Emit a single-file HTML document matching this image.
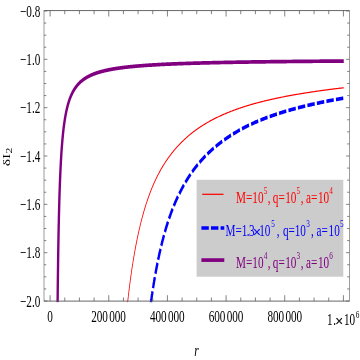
<!DOCTYPE html><html><head><meta charset="utf-8"><style>html,body{margin:0;padding:0;background:#fff}body{width:360px;height:360px;overflow:hidden;font-family:"Liberation Serif",serif}</style></head><body><svg width="360" height="360" viewBox="0 0 360 360" style="display:block">
<defs><filter id="bl" filterUnits="userSpaceOnUse" x="0" y="0" width="360" height="240" color-interpolation-filters="sRGB"><feGaussianBlur stdDeviation="0.3"/></filter></defs>
<rect width="360" height="360" fill="#fff"/>
<g transform="scale(1,1.53846)" font-family="Liberation Serif, serif" filter="url(#bl)">
<clipPath id="c"><rect x="44.00" y="6.89" width="305.50" height="189.60"/></clipPath>
<g clip-path="url(#c)" fill="none">
<path d="M127.61 196.62 L127.61 196.62 L127.61 196.62 L127.61 196.61 L127.61 196.60 L127.61 196.59 L127.61 196.57 L127.62 196.55 L127.62 196.52 L127.63 196.50 L127.63 196.46 L127.64 196.43 L127.65 196.39 L127.65 196.34 L127.66 196.29 L127.67 196.24 L127.68 196.18 L127.69 196.12 L127.70 196.05 L127.72 195.98 L127.73 195.91 L127.74 195.82 L127.76 195.74 L127.77 195.65 L127.79 195.55 L127.81 195.46 L127.82 195.35 L127.84 195.24 L127.86 195.13 L127.88 195.01 L127.90 194.89 L127.93 194.76 L127.95 194.63 L127.97 194.49 L128.00 194.35 L128.02 194.20 L128.05 194.05 L128.08 193.89 L128.11 193.73 L128.14 193.56 L128.17 193.39 L128.20 193.21 L128.23 193.03 L128.26 192.84 L128.30 192.65 L128.33 192.46 L128.37 192.26 L128.41 192.05 L128.44 191.84 L128.48 191.63 L128.52 191.41 L128.56 191.18 L128.61 190.96 L128.65 190.72 L128.69 190.48 L128.74 190.24 L128.78 190.00 L128.83 189.74 L128.88 189.49 L128.93 189.23 L128.98 188.96 L129.03 188.69 L129.08 188.42 L129.13 188.14 L129.18 187.86 L129.24 187.57 L129.29 187.28 L129.35 186.99 L129.41 186.69 L129.47 186.39 L129.53 186.08 L129.59 185.77 L129.65 185.46 L129.71 185.14 L129.78 184.82 L129.84 184.49 L129.91 184.16 L129.98 183.83 L130.04 183.49 L130.11 183.15 L130.18 182.80 L130.26 182.46 L130.33 182.10 L130.40 181.75 L130.48 181.39 L130.55 181.03 L130.63 180.67 L130.71 180.30 L130.79 179.93 L130.87 179.55 L130.95 179.18 L131.03 178.80 L131.11 178.41 L131.20 178.03 L131.28 177.64 L131.37 177.25 L131.46 176.86 L131.54 176.46 L131.63 176.06 L131.73 175.66 L131.82 175.25 L131.91 174.85 L132.01 174.44 L132.10 174.03 L132.20 173.62 L132.29 173.20 L132.39 172.78 L132.49 172.36 L132.59 171.94 L132.70 171.52 L132.80 171.09 L132.90 170.67 L133.01 170.24 L133.12 169.81 L133.22 169.37 L133.33 168.94 L133.44 168.50 L133.55 168.07 L133.67 167.63 L133.78 167.19 L133.90 166.75 L134.01 166.30 L134.13 165.86 L134.25 165.42 L134.37 164.97 L134.49 164.52 L134.61 164.07 L134.73 163.62 L134.86 163.17 L134.98 162.72 L135.11 162.27 L135.23 161.82 L135.36 161.37 L135.49 160.91 L135.62 160.46 L135.76 160.00 L135.89 159.55 L136.02 159.09 L136.16 158.63 L136.30 158.18 L136.43 157.72 L136.57 157.26 L136.71 156.80 L136.86 156.34 L137.00 155.89 L137.14 155.43 L137.29 154.97 L137.44 154.51 L137.58 154.05 L137.73 153.59 L137.88 153.13 L138.03 152.68 L138.19 152.22 L138.34 151.76 L138.49 151.30 L138.65 150.84 L138.81 150.39 L138.97 149.93 L139.13 149.47 L139.29 149.02 L139.45 148.56 L139.61 148.10 L139.78 147.65 L139.94 147.19 L140.11 146.74 L140.28 146.29 L140.45 145.84 L140.62 145.38 L140.79 144.93 L140.96 144.48 L141.14 144.03 L141.31 143.58 L141.49 143.13 L141.67 142.69 L141.85 142.24 L142.03 141.79 L142.21 141.35 L142.40 140.91 L142.58 140.46 L142.77 140.02 L142.95 139.58 L143.14 139.14 L143.33 138.70 L143.52 138.26 L143.71 137.83 L143.91 137.39 L144.10 136.95 L144.30 136.52 L144.49 136.09 L144.69 135.66 L144.89 135.23 L145.09 134.80 L145.29 134.37 L145.50 133.94 L145.70 133.52 L145.91 133.09 L146.11 132.67 L146.32 132.25 L146.53 131.83 L146.74 131.41 L146.96 131.00 L147.17 130.58 L147.38 130.17 L147.60 129.75 L147.82 129.34 L148.04 128.93 L148.26 128.53 L148.48 128.12 L148.70 127.71 L148.92 127.31 L149.15 126.91 L149.37 126.51 L149.60 126.11 L149.83 125.71 L150.06 125.32 L150.29 124.92 L150.53 124.53 L150.76 124.14 L151.00 123.75 L151.23 123.36 L151.47 122.97 L151.71 122.59 L151.95 122.21 L152.19 121.82 L152.43 121.45 L152.68 121.07 L152.93 120.69 L153.17 120.32 L153.42 119.94 L153.67 119.57 L153.92 119.20 L154.17 118.83 L154.43 118.46 L154.68 118.10 L154.94 117.74 L155.20 117.37 L155.46 117.01 L155.72 116.66 L155.98 116.30 L156.24 115.94 L156.50 115.59 L156.77 115.24 L157.04 114.89 L157.31 114.54 L157.57 114.19 L157.85 113.85 L158.12 113.50 L158.39 113.16 L158.67 112.82 L158.94 112.48 L159.22 112.14 L159.50 111.81 L159.78 111.47 L160.06 111.14 L160.34 110.81 L160.63 110.48 L160.91 110.15 L161.20 109.83 L161.49 109.50 L161.78 109.18 L162.07 108.86 L162.36 108.54 L162.65 108.22 L162.95 107.90 L163.25 107.59 L163.54 107.27 L163.84 106.96 L164.14 106.65 L164.44 106.34 L164.75 106.03 L165.05 105.73 L165.36 105.42 L165.67 105.12 L165.97 104.82 L166.28 104.52 L166.59 104.22 L166.91 103.92 L167.22 103.63 L167.54 103.33 L167.85 103.04 L168.17 102.75 L168.49 102.46 L168.81 102.17 L169.13 101.88 L169.46 101.59 L169.78 101.31 L170.11 101.03 L170.44 100.74 L170.76 100.46 L171.10 100.18 L171.43 99.90 L171.76 99.63 L172.09 99.35 L172.43 99.08 L172.77 98.80 L173.11 98.53 L173.45 98.26 L173.79 97.99 L174.13 97.72 L174.47 97.46 L174.82 97.19 L175.17 96.93 L175.52 96.66 L175.87 96.40 L176.22 96.14 L176.57 95.88 L176.92 95.62 L177.28 95.37 L177.63 95.11 L177.99 94.86 L178.35 94.60 L178.71 94.35 L179.08 94.10 L179.44 93.85 L179.80 93.60 L180.17 93.35 L180.54 93.11 L180.91 92.86 L181.28 92.62 L181.65 92.38 L182.02 92.14 L182.40 91.90 L182.77 91.66 L183.15 91.42 L183.53 91.19 L183.91 90.95 L184.29 90.72 L184.68 90.49 L185.06 90.26 L185.45 90.03 L185.83 89.80 L186.22 89.57 L186.61 89.34 L187.01 89.12 L187.40 88.89 L187.79 88.67 L188.19 88.45 L188.59 88.23 L188.99 88.01 L189.39 87.79 L189.79 87.57 L190.19 87.36 L190.59 87.14 L191.00 86.93 L191.41 86.72 L191.82 86.51 L192.23 86.30 L192.64 86.09 L193.05 85.88 L193.47 85.67 L193.88 85.47 L194.30 85.26 L194.72 85.06 L195.14 84.86 L195.56 84.65 L195.98 84.45 L196.41 84.25 L196.83 84.06 L197.26 83.86 L197.69 83.66 L198.12 83.47 L198.55 83.28 L198.98 83.08 L199.42 82.89 L199.85 82.70 L200.29 82.51 L200.73 82.33 L201.17 82.14 L201.61 81.95 L202.06 81.77 L202.50 81.59 L202.95 81.40 L203.39 81.22 L203.84 81.04 L204.29 80.86 L204.75 80.68 L205.20 80.50 L205.65 80.32 L206.11 80.15 L206.57 79.97 L207.03 79.80 L207.49 79.63 L207.95 79.45 L208.41 79.28 L208.88 79.11 L209.34 78.94 L209.81 78.77 L210.28 78.60 L210.75 78.44 L211.22 78.27 L211.70 78.11 L212.17 77.94 L212.65 77.78 L213.13 77.61 L213.61 77.45 L214.09 77.29 L214.57 77.13 L215.05 76.97 L215.54 76.81 L216.02 76.66 L216.51 76.50 L217.00 76.34 L217.49 76.19 L217.99 76.03 L218.48 75.88 L218.98 75.73 L219.47 75.58 L219.97 75.43 L220.47 75.27 L220.97 75.13 L221.48 74.98 L221.98 74.83 L222.49 74.68 L222.99 74.54 L223.50 74.39 L224.01 74.25 L224.53 74.10 L225.04 73.96 L225.55 73.82 L226.07 73.67 L226.59 73.53 L227.11 73.39 L227.63 73.25 L228.15 73.11 L228.67 72.98 L229.20 72.84 L229.72 72.70 L230.25 72.57 L230.78 72.43 L231.31 72.30 L231.85 72.16 L232.38 72.03 L232.92 71.90 L233.45 71.77 L233.99 71.64 L234.53 71.51 L235.07 71.38 L235.62 71.25 L236.16 71.12 L236.71 70.99 L237.25 70.87 L237.80 70.74 L238.35 70.61 L238.91 70.49 L239.46 70.37 L240.01 70.24 L240.57 70.12 L241.13 70.00 L241.69 69.88 L242.25 69.76 L242.81 69.64 L243.38 69.52 L243.94 69.40 L244.51 69.28 L245.08 69.16 L245.65 69.05 L246.22 68.93 L246.79 68.81 L247.37 68.70 L247.94 68.58 L248.52 68.47 L249.10 68.36 L249.68 68.25 L250.26 68.13 L250.84 68.02 L251.43 67.91 L252.02 67.80 L252.60 67.69 L253.19 67.58 L253.78 67.48 L254.38 67.37 L254.97 67.26 L255.57 67.15 L256.16 67.05 L256.76 66.94 L257.36 66.84 L257.96 66.73 L258.57 66.63 L259.17 66.53 L259.78 66.42 L260.39 66.32 L261.00 66.22 L261.61 66.12 L262.22 66.02 L262.83 65.92 L263.45 65.82 L264.07 65.72 L264.68 65.62 L265.30 65.52 L265.93 65.42 L266.55 65.33 L267.17 65.23 L267.80 65.13 L268.43 65.04 L269.06 64.94 L269.69 64.85 L270.32 64.75 L270.95 64.66 L271.59 64.57 L272.23 64.47 L272.86 64.38 L273.50 64.29 L274.14 64.20 L274.79 64.11 L275.43 64.01 L276.08 63.92 L276.73 63.83 L277.38 63.75 L278.03 63.66 L278.68 63.57 L279.33 63.48 L279.99 63.39 L280.64 63.31 L281.30 63.22 L281.96 63.13 L282.62 63.05 L283.29 62.96 L283.95 62.88 L284.62 62.79 L285.28 62.71 L285.95 62.62 L286.62 62.54 L287.30 62.46 L287.97 62.37 L288.65 62.29 L289.32 62.21 L290.00 62.13 L290.68 62.05 L291.36 61.97 L292.05 61.89 L292.73 61.81 L293.42 61.73 L294.10 61.65 L294.79 61.57 L295.48 61.49 L296.18 61.41 L296.87 61.34 L297.57 61.26 L298.26 61.18 L298.96 61.10 L299.66 61.03 L300.36 60.95 L301.07 60.88 L301.77 60.80 L302.48 60.73 L303.19 60.65 L303.90 60.58 L304.61 60.50 L305.32 60.43 L306.03 60.36 L306.75 60.28 L307.47 60.21 L308.19 60.14 L308.91 60.07 L309.63 59.99 L310.35 59.92 L311.08 59.85 L311.80 59.78 L312.53 59.71 L313.26 59.64 L313.99 59.57 L314.73 59.50 L315.46 59.43 L316.20 59.36 L316.94 59.29 L317.67 59.22 L318.42 59.15 L319.16 59.09 L319.90 59.02 L320.65 58.95 L321.39 58.88 L322.14 58.81 L322.89 58.75 L323.65 58.68 L324.40 58.61 L325.15 58.55 L325.91 58.48 L326.67 58.42 L327.43 58.35 L328.19 58.29 L328.95 58.22 L329.72 58.16 L330.48 58.09 L331.25 58.03 L332.02 57.97 L332.79 57.90 L333.56 57.84 L334.34 57.78 L335.11 57.72 L335.89 57.66 L336.67 57.59 L337.45 57.53 L338.23 57.47 L339.02 57.41 L339.80 57.35 L340.59 57.29 L341.38 57.24 L342.17 57.18 L342.96 57.12 L343.75 57.06" stroke="#ff0000" stroke-width="0.8"/>
<path d="M150.91 196.62 L150.91 196.62 L150.91 196.62 L150.92 196.62 L150.92 196.61 L150.92 196.60 L150.92 196.59 L150.92 196.57 L150.93 196.56 L150.93 196.54 L150.94 196.51 L150.94 196.49 L150.95 196.46 L150.96 196.42 L150.96 196.39 L150.97 196.35 L150.98 196.31 L150.99 196.27 L151.00 196.22 L151.01 196.17 L151.02 196.11 L151.04 196.05 L151.05 195.99 L151.06 195.93 L151.08 195.86 L151.09 195.79 L151.11 195.72 L151.12 195.64 L151.14 195.56 L151.16 195.47 L151.18 195.38 L151.20 195.29 L151.22 195.19 L151.24 195.09 L151.26 194.99 L151.29 194.89 L151.31 194.78 L151.34 194.66 L151.36 194.55 L151.39 194.43 L151.41 194.30 L151.44 194.17 L151.47 194.04 L151.50 193.91 L151.53 193.77 L151.56 193.63 L151.59 193.48 L151.63 193.33 L151.66 193.18 L151.70 193.03 L151.73 192.87 L151.77 192.70 L151.81 192.54 L151.84 192.37 L151.88 192.19 L151.92 192.02 L151.96 191.84 L152.00 191.65 L152.05 191.47 L152.09 191.28 L152.13 191.08 L152.18 190.88 L152.23 190.68 L152.27 190.48 L152.32 190.27 L152.37 190.06 L152.42 189.85 L152.47 189.63 L152.52 189.41 L152.57 189.18 L152.63 188.96 L152.68 188.73 L152.74 188.49 L152.79 188.26 L152.85 188.02 L152.91 187.77 L152.97 187.53 L153.03 187.28 L153.09 187.03 L153.15 186.77 L153.21 186.52 L153.28 186.25 L153.34 185.99 L153.41 185.72 L153.47 185.46 L153.54 185.18 L153.61 184.91 L153.68 184.63 L153.75 184.35 L153.82 184.07 L153.89 183.78 L153.97 183.49 L154.04 183.20 L154.12 182.91 L154.19 182.61 L154.27 182.31 L154.35 182.01 L154.43 181.71 L154.51 181.40 L154.59 181.09 L154.67 180.78 L154.75 180.47 L154.84 180.16 L154.92 179.84 L155.01 179.52 L155.10 179.20 L155.18 178.87 L155.27 178.55 L155.36 178.22 L155.46 177.89 L155.55 177.56 L155.64 177.22 L155.73 176.89 L155.83 176.55 L155.93 176.21 L156.02 175.87 L156.12 175.52 L156.22 175.18 L156.32 174.83 L156.42 174.48 L156.52 174.14 L156.63 173.78 L156.73 173.43 L156.84 173.08 L156.94 172.72 L157.05 172.36 L157.16 172.00 L157.27 171.64 L157.38 171.28 L157.49 170.92 L157.61 170.55 L157.72 170.19 L157.83 169.82 L157.95 169.46 L158.07 169.09 L158.18 168.72 L158.30 168.35 L158.42 167.97 L158.54 167.60 L158.67 167.23 L158.79 166.85 L158.91 166.48 L159.04 166.10 L159.17 165.72 L159.29 165.34 L159.42 164.96 L159.55 164.58 L159.68 164.20 L159.81 163.82 L159.95 163.44 L160.08 163.06 L160.22 162.68 L160.35 162.29 L160.49 161.91 L160.63 161.52 L160.77 161.14 L160.91 160.75 L161.05 160.37 L161.19 159.98 L161.34 159.60 L161.48 159.21 L161.63 158.82 L161.77 158.43 L161.92 158.05 L162.07 157.66 L162.22 157.27 L162.37 156.88 L162.52 156.50 L162.68 156.11 L162.83 155.72 L162.99 155.33 L163.14 154.94 L163.30 154.55 L163.46 154.17 L163.62 153.78 L163.78 153.39 L163.94 153.00 L164.11 152.61 L164.27 152.23 L164.44 151.84 L164.61 151.45 L164.77 151.06 L164.94 150.68 L165.11 150.29 L165.28 149.90 L165.46 149.52 L165.63 149.13 L165.80 148.75 L165.98 148.36 L166.16 147.98 L166.33 147.60 L166.51 147.22 L166.69 146.83 L166.88 146.45 L167.06 146.07 L167.24 145.69 L167.43 145.31 L167.61 144.93 L167.80 144.56 L167.99 144.18 L168.18 143.80 L168.37 143.43 L168.56 143.05 L168.75 142.68 L168.95 142.30 L169.14 141.93 L169.34 141.56 L169.53 141.19 L169.73 140.82 L169.93 140.45 L170.13 140.08 L170.33 139.71 L170.54 139.35 L170.74 138.98 L170.95 138.62 L171.15 138.25 L171.36 137.89 L171.57 137.53 L171.78 137.16 L171.99 136.80 L172.20 136.45 L172.42 136.09 L172.63 135.73 L172.85 135.37 L173.06 135.02 L173.28 134.66 L173.50 134.31 L173.72 133.96 L173.94 133.61 L174.17 133.26 L174.39 132.91 L174.62 132.56 L174.84 132.21 L175.07 131.87 L175.30 131.52 L175.53 131.18 L175.76 130.83 L175.99 130.49 L176.23 130.15 L176.46 129.81 L176.70 129.47 L176.93 129.13 L177.17 128.79 L177.41 128.46 L177.65 128.12 L177.89 127.79 L178.13 127.46 L178.38 127.12 L178.62 126.79 L178.87 126.46 L179.12 126.13 L179.37 125.81 L179.62 125.48 L179.87 125.15 L180.12 124.83 L180.37 124.50 L180.63 124.18 L180.88 123.86 L181.14 123.54 L181.40 123.22 L181.66 122.90 L181.92 122.58 L182.18 122.26 L182.45 121.94 L182.71 121.63 L182.98 121.31 L183.24 121.00 L183.51 120.69 L183.78 120.37 L184.05 120.06 L184.32 119.75 L184.59 119.44 L184.87 119.13 L185.14 118.82 L185.42 118.52 L185.70 118.21 L185.98 117.90 L186.26 117.60 L186.54 117.30 L186.82 117.00 L187.10 116.69 L187.39 116.40 L187.68 116.10 L187.96 115.80 L188.25 115.50 L188.54 115.21 L188.83 114.92 L189.12 114.62 L189.42 114.33 L189.71 114.04 L190.01 113.75 L190.31 113.47 L190.60 113.18 L190.90 112.89 L191.21 112.61 L191.51 112.33 L191.81 112.05 L192.12 111.76 L192.42 111.48 L192.73 111.21 L193.04 110.93 L193.35 110.65 L193.66 110.38 L193.97 110.10 L194.28 109.83 L194.60 109.56 L194.91 109.29 L195.23 109.02 L195.55 108.75 L195.87 108.48 L196.19 108.22 L196.51 107.95 L196.83 107.69 L197.16 107.42 L197.48 107.16 L197.81 106.90 L198.14 106.64 L198.47 106.38 L198.80 106.13 L199.13 105.87 L199.46 105.62 L199.80 105.36 L200.13 105.11 L200.47 104.86 L200.81 104.61 L201.15 104.36 L201.49 104.11 L201.83 103.86 L202.17 103.61 L202.52 103.37 L202.86 103.12 L203.21 102.88 L203.56 102.64 L203.91 102.39 L204.26 102.15 L204.61 101.91 L204.96 101.68 L205.32 101.44 L205.67 101.20 L206.03 100.97 L206.39 100.73 L206.75 100.50 L207.11 100.27 L207.47 100.04 L207.84 99.81 L208.20 99.58 L208.57 99.35 L208.93 99.12 L209.30 98.89 L209.67 98.67 L210.04 98.44 L210.41 98.22 L210.79 98.00 L211.16 97.77 L211.54 97.55 L211.92 97.33 L212.30 97.11 L212.68 96.90 L213.06 96.68 L213.44 96.46 L213.82 96.25 L214.21 96.03 L214.59 95.82 L214.98 95.61 L215.37 95.40 L215.76 95.18 L216.15 94.97 L216.55 94.76 L216.94 94.56 L217.34 94.35 L217.73 94.14 L218.13 93.93 L218.53 93.73 L218.93 93.52 L219.33 93.32 L219.73 93.11 L220.14 92.91 L220.54 92.71 L220.95 92.51 L221.36 92.31 L221.77 92.11 L222.18 91.91 L222.59 91.71 L223.01 91.51 L223.42 91.31 L223.84 91.12 L224.25 90.92 L224.67 90.73 L225.09 90.53 L225.51 90.34 L225.94 90.15 L226.36 89.95 L226.79 89.76 L227.21 89.57 L227.64 89.38 L228.07 89.19 L228.50 89.01 L228.93 88.82 L229.36 88.63 L229.80 88.44 L230.23 88.26 L230.67 88.07 L231.11 87.89 L231.55 87.71 L231.99 87.52 L232.43 87.34 L232.87 87.16 L233.32 86.98 L233.77 86.80 L234.21 86.62 L234.66 86.44 L235.11 86.27 L235.56 86.09 L236.02 85.92 L236.47 85.74 L236.93 85.57 L237.38 85.39 L237.84 85.22 L238.30 85.05 L238.76 84.88 L239.22 84.71 L239.68 84.54 L240.15 84.37 L240.62 84.20 L241.08 84.03 L241.55 83.86 L242.02 83.70 L242.49 83.53 L242.96 83.37 L243.44 83.20 L243.91 83.04 L244.39 82.88 L244.87 82.72 L245.35 82.56 L245.83 82.40 L246.31 82.24 L246.79 82.08 L247.28 81.93 L247.76 81.77 L248.25 81.61 L248.74 81.46 L249.23 81.31 L249.72 81.15 L250.21 81.00 L250.70 80.85 L251.20 80.70 L251.70 80.55 L252.19 80.40 L252.69 80.25 L253.19 80.10 L253.70 79.96 L254.20 79.81 L254.70 79.66 L255.21 79.52 L255.72 79.37 L256.23 79.23 L256.73 79.09 L257.25 78.94 L257.76 78.80 L258.27 78.66 L258.79 78.52 L259.30 78.38 L259.82 78.24 L260.34 78.10 L260.86 77.96 L261.38 77.83 L261.91 77.69 L262.43 77.55 L262.96 77.42 L263.49 77.28 L264.01 77.15 L264.54 77.01 L265.08 76.88 L265.61 76.74 L266.14 76.61 L266.68 76.48 L267.22 76.35 L267.75 76.22 L268.29 76.09 L268.83 75.96 L269.38 75.83 L269.92 75.70 L270.46 75.57 L271.01 75.45 L271.56 75.32 L272.11 75.19 L272.66 75.07 L273.21 74.94 L273.76 74.82 L274.32 74.69 L274.87 74.57 L275.43 74.45 L275.99 74.33 L276.55 74.20 L277.11 74.08 L277.67 73.96 L278.24 73.84 L278.80 73.72 L279.37 73.60 L279.94 73.48 L280.51 73.37 L281.08 73.25 L281.65 73.13 L282.22 73.01 L282.80 72.90 L283.38 72.78 L283.95 72.67 L284.53 72.55 L285.11 72.44 L285.69 72.32 L286.28 72.21 L286.86 72.10 L287.45 71.99 L288.04 71.87 L288.62 71.76 L289.21 71.65 L289.81 71.54 L290.40 71.43 L290.99 71.32 L291.59 71.21 L292.19 71.10 L292.78 71.00 L293.38 70.89 L293.99 70.78 L294.59 70.67 L295.19 70.57 L295.80 70.46 L296.40 70.36 L297.01 70.25 L297.62 70.15 L298.23 70.04 L298.84 69.94 L299.46 69.84 L300.07 69.73 L300.69 69.63 L301.31 69.53 L301.93 69.43 L302.55 69.33 L303.17 69.23 L303.79 69.13 L304.42 69.03 L305.04 68.93 L305.67 68.83 L306.30 68.73 L306.93 68.63 L307.56 68.53 L308.19 68.44 L308.83 68.34 L309.46 68.24 L310.10 68.15 L310.74 68.05 L311.38 67.96 L312.02 67.86 L312.66 67.76 L313.31 67.67 L313.95 67.58 L314.60 67.48 L315.25 67.39 L315.90 67.29 L316.55 67.20 L317.20 67.11 L317.86 67.02 L318.51 66.92 L319.17 66.83 L319.83 66.74 L320.49 66.65 L321.15 66.56 L321.81 66.47 L322.47 66.38 L323.14 66.29 L323.81 66.20 L324.47 66.11 L325.14 66.02 L325.81 65.93 L326.49 65.85 L327.16 65.76 L327.83 65.67 L328.51 65.59 L329.19 65.50 L329.87 65.41 L330.55 65.33 L331.23 65.24 L331.91 65.16 L332.60 65.08 L333.29 64.99 L333.97 64.91 L334.66 64.83 L335.35 64.75 L336.05 64.67 L336.74 64.58 L337.43 64.50 L338.13 64.42 L338.83 64.35 L339.53 64.27 L340.23 64.19 L340.93 64.11 L341.63 64.04 L342.34 63.96 L343.04 63.88 L343.75 63.81" stroke="#0000ff" stroke-width="2.4" stroke-dasharray="7.4 2.2" stroke-dashoffset="0"/>
<path d="M57.61 196.58 L57.61 196.57 L57.61 196.52 L57.61 196.42 L57.62 196.28 L57.62 196.08 L57.62 195.83 L57.63 195.53 L57.63 195.18 L57.64 194.76 L57.65 194.30 L57.66 193.77 L57.66 193.19 L57.67 192.55 L57.69 191.86 L57.70 191.12 L57.71 190.31 L57.72 189.46 L57.74 188.55 L57.76 187.60 L57.77 186.59 L57.79 185.54 L57.81 184.44 L57.83 183.29 L57.85 182.11 L57.88 180.88 L57.90 179.62 L57.92 178.32 L57.95 176.99 L57.98 175.62 L58.01 174.23 L58.04 172.80 L58.07 171.36 L58.10 169.89 L58.13 168.40 L58.17 166.89 L58.20 165.37 L58.24 163.83 L58.28 162.27 L58.31 160.71 L58.35 159.14 L58.40 157.57 L58.44 155.99 L58.48 154.40 L58.53 152.82 L58.57 151.24 L58.62 149.65 L58.67 148.08 L58.72 146.50 L58.77 144.94 L58.83 143.38 L58.88 141.83 L58.93 140.29 L58.99 138.75 L59.05 137.24 L59.11 135.73 L59.17 134.24 L59.23 132.76 L59.29 131.29 L59.36 129.85 L59.42 128.41 L59.49 127.00 L59.56 125.60 L59.63 124.21 L59.70 122.85 L59.77 121.50 L59.85 120.18 L59.92 118.87 L60.00 117.58 L60.08 116.30 L60.16 115.05 L60.24 113.81 L60.32 112.60 L60.40 111.40 L60.49 110.23 L60.57 109.07 L60.66 107.93 L60.75 106.81 L60.84 105.70 L60.93 104.62 L61.02 103.55 L61.12 102.51 L61.21 101.48 L61.31 100.47 L61.41 99.47 L61.51 98.50 L61.61 97.54 L61.72 96.60 L61.82 95.68 L61.93 94.77 L62.03 93.88 L62.14 93.00 L62.25 92.14 L62.36 91.30 L62.48 90.47 L62.59 89.66 L62.71 88.86 L62.83 88.08 L62.94 87.31 L63.06 86.56 L63.19 85.82 L63.31 85.09 L63.43 84.38 L63.56 83.68 L63.69 83.00 L63.82 82.32 L63.95 81.66 L64.08 81.02 L64.22 80.38 L64.35 79.76 L64.49 79.14 L64.63 78.54 L64.77 77.95 L64.91 77.37 L65.05 76.80 L65.19 76.25 L65.34 75.70 L65.49 75.16 L65.64 74.63 L65.79 74.12 L65.94 73.61 L66.09 73.11 L66.25 72.62 L66.40 72.14 L66.56 71.67 L66.72 71.20 L66.88 70.75 L67.04 70.30 L67.21 69.86 L67.37 69.43 L67.54 69.01 L67.71 68.59 L67.88 68.18 L68.05 67.78 L68.23 67.39 L68.40 67.00 L68.58 66.62 L68.76 66.25 L68.93 65.88 L69.12 65.52 L69.30 65.17 L69.48 64.82 L69.67 64.48 L69.86 64.14 L70.05 63.81 L70.24 63.49 L70.43 63.17 L70.62 62.86 L70.82 62.55 L71.02 62.25 L71.21 61.95 L71.42 61.66 L71.62 61.37 L71.82 61.08 L72.03 60.81 L72.23 60.53 L72.44 60.26 L72.65 60.00 L72.86 59.74 L73.08 59.48 L73.29 59.23 L73.51 58.98 L73.72 58.74 L73.94 58.50 L74.17 58.26 L74.39 58.03 L74.61 57.80 L74.84 57.58 L75.07 57.36 L75.30 57.14 L75.53 56.93 L75.76 56.71 L75.99 56.51 L76.23 56.30 L76.47 56.10 L76.71 55.90 L76.95 55.71 L77.19 55.52 L77.43 55.33 L77.68 55.14 L77.93 54.96 L78.18 54.78 L78.43 54.60 L78.68 54.42 L78.93 54.25 L79.19 54.08 L79.45 53.91 L79.71 53.75 L79.97 53.58 L80.23 53.42 L80.49 53.27 L80.76 53.11 L81.03 52.96 L81.30 52.81 L81.57 52.66 L81.84 52.51 L82.11 52.37 L82.39 52.22 L82.67 52.08 L82.95 51.94 L83.23 51.81 L83.51 51.67 L83.79 51.54 L84.08 51.41 L84.37 51.28 L84.66 51.15 L84.95 51.03 L85.24 50.90 L85.54 50.78 L85.83 50.66 L86.13 50.54 L86.43 50.42 L86.73 50.31 L87.03 50.19 L87.34 50.08 L87.64 49.97 L87.95 49.86 L88.26 49.75 L88.57 49.65 L88.89 49.54 L89.20 49.44 L89.52 49.34 L89.84 49.23 L90.16 49.13 L90.48 49.04 L90.80 48.94 L91.13 48.84 L91.46 48.75 L91.79 48.65 L92.12 48.56 L92.45 48.47 L92.78 48.38 L93.12 48.29 L93.46 48.20 L93.80 48.12 L94.14 48.03 L94.48 47.95 L94.82 47.86 L95.17 47.78 L95.52 47.70 L95.87 47.62 L96.22 47.54 L96.57 47.46 L96.93 47.38 L97.28 47.31 L97.64 47.23 L98.00 47.15 L98.37 47.08 L98.73 47.01 L99.10 46.94 L99.46 46.86 L99.83 46.79 L100.20 46.72 L100.58 46.66 L100.95 46.59 L101.33 46.52 L101.70 46.45 L102.08 46.39 L102.47 46.32 L102.85 46.26 L103.23 46.20 L103.62 46.13 L104.01 46.07 L104.40 46.01 L104.79 45.95 L105.19 45.89 L105.58 45.83 L105.98 45.77 L106.38 45.71 L106.78 45.66 L107.18 45.60 L107.59 45.54 L108.00 45.49 L108.40 45.43 L108.81 45.38 L109.23 45.32 L109.64 45.27 L110.06 45.22 L110.47 45.17 L110.89 45.12 L111.31 45.07 L111.74 45.02 L112.16 44.97 L112.59 44.92 L113.02 44.87 L113.45 44.82 L113.88 44.77 L114.31 44.73 L114.75 44.68 L115.18 44.63 L115.62 44.59 L116.06 44.54 L116.51 44.50 L116.95 44.45 L117.40 44.41 L117.85 44.37 L118.30 44.32 L118.75 44.28 L119.20 44.24 L119.66 44.20 L120.12 44.16 L120.57 44.11 L121.04 44.07 L121.50 44.03 L121.96 44.00 L122.43 43.96 L122.90 43.92 L123.37 43.88 L123.84 43.84 L124.31 43.80 L124.79 43.77 L125.27 43.73 L125.75 43.69 L126.23 43.66 L126.71 43.62 L127.20 43.59 L127.68 43.55 L128.17 43.52 L128.66 43.48 L129.16 43.45 L129.65 43.41 L130.15 43.38 L130.64 43.35 L131.14 43.31 L131.65 43.28 L132.15 43.25 L132.66 43.22 L133.16 43.19 L133.67 43.15 L134.18 43.12 L134.70 43.09 L135.21 43.06 L135.73 43.03 L136.25 43.00 L136.77 42.97 L137.29 42.94 L137.81 42.91 L138.34 42.89 L138.87 42.86 L139.40 42.83 L139.93 42.80 L140.46 42.77 L141.00 42.75 L141.54 42.72 L142.07 42.69 L142.62 42.66 L143.16 42.64 L143.70 42.61 L144.25 42.59 L144.80 42.56 L145.35 42.53 L145.90 42.51 L146.46 42.48 L147.01 42.46 L147.57 42.43 L148.13 42.41 L148.69 42.39 L149.26 42.36 L149.82 42.34 L150.39 42.31 L150.96 42.29 L151.53 42.27 L152.10 42.24 L152.68 42.22 L153.26 42.20 L153.84 42.18 L154.42 42.15 L155.00 42.13 L155.58 42.11 L156.17 42.09 L156.76 42.07 L157.35 42.04 L157.94 42.02 L158.54 42.00 L159.13 41.98 L159.73 41.96 L160.33 41.94 L160.93 41.92 L161.54 41.90 L162.14 41.88 L162.75 41.86 L163.36 41.84 L163.97 41.82 L164.58 41.80 L165.20 41.78 L165.82 41.76 L166.44 41.74 L167.06 41.73 L167.68 41.71 L168.31 41.69 L168.93 41.67 L169.56 41.65 L170.19 41.63 L170.83 41.62 L171.46 41.60 L172.10 41.58 L172.74 41.56 L173.38 41.55 L174.02 41.53 L174.66 41.51 L175.31 41.50 L175.96 41.48 L176.61 41.46 L177.26 41.45 L177.91 41.43 L178.57 41.41 L179.23 41.40 L179.89 41.38 L180.55 41.37 L181.21 41.35 L181.88 41.33 L182.55 41.32 L183.22 41.30 L183.89 41.29 L184.56 41.27 L185.24 41.26 L185.92 41.24 L186.60 41.23 L187.28 41.21 L187.96 41.20 L188.65 41.18 L189.33 41.17 L190.02 41.15 L190.71 41.14 L191.41 41.13 L192.10 41.11 L192.80 41.10 L193.50 41.09 L194.20 41.07 L194.90 41.06 L195.61 41.04 L196.32 41.03 L197.02 41.02 L197.74 41.00 L198.45 40.99 L199.16 40.98 L199.88 40.97 L200.60 40.95 L201.32 40.94 L202.04 40.93 L202.77 40.91 L203.49 40.90 L204.22 40.89 L204.95 40.88 L205.69 40.87 L206.42 40.85 L207.16 40.84 L207.90 40.83 L208.64 40.82 L209.38 40.81 L210.12 40.79 L210.87 40.78 L211.62 40.77 L212.37 40.76 L213.12 40.75 L213.88 40.74 L214.63 40.73 L215.39 40.71 L216.15 40.70 L216.92 40.69 L217.68 40.68 L218.45 40.67 L219.21 40.66 L219.99 40.65 L220.76 40.64 L221.53 40.63 L222.31 40.62 L223.09 40.61 L223.87 40.60 L224.65 40.59 L225.44 40.58 L226.22 40.57 L227.01 40.56 L227.80 40.55 L228.59 40.54 L229.39 40.53 L230.18 40.52 L230.98 40.51 L231.78 40.50 L232.59 40.49 L233.39 40.48 L234.20 40.47 L235.01 40.46 L235.82 40.45 L236.63 40.44 L237.44 40.43 L238.26 40.42 L239.08 40.41 L239.90 40.40 L240.72 40.40 L241.55 40.39 L242.38 40.38 L243.20 40.37 L244.04 40.36 L244.87 40.35 L245.70 40.34 L246.54 40.33 L247.38 40.33 L248.22 40.32 L249.06 40.31 L249.91 40.30 L250.76 40.29 L251.60 40.28 L252.46 40.28 L253.31 40.27 L254.16 40.26 L255.02 40.25 L255.88 40.24 L256.74 40.24 L257.61 40.23 L258.47 40.22 L259.34 40.21 L260.21 40.20 L261.08 40.20 L261.95 40.19 L262.83 40.18 L263.71 40.17 L264.59 40.17 L265.47 40.16 L266.35 40.15 L267.24 40.14 L268.13 40.14 L269.02 40.13 L269.91 40.12 L270.80 40.11 L271.70 40.11 L272.60 40.10 L273.50 40.09 L274.40 40.09 L275.30 40.08 L276.21 40.07 L277.12 40.07 L278.03 40.06 L278.94 40.05 L279.85 40.04 L280.77 40.04 L281.69 40.03 L282.61 40.02 L283.53 40.02 L284.46 40.01 L285.39 40.00 L286.31 40.00 L287.25 39.99 L288.18 39.99 L289.11 39.98 L290.05 39.97 L290.99 39.97 L291.93 39.96 L292.88 39.95 L293.82 39.95 L294.77 39.94 L295.72 39.94 L296.67 39.93 L297.62 39.92 L298.58 39.92 L299.54 39.91 L300.50 39.90 L301.46 39.90 L302.42 39.89 L303.39 39.89 L304.36 39.88 L305.33 39.88 L306.30 39.87 L307.28 39.86 L308.25 39.86 L309.23 39.85 L310.21 39.85 L311.19 39.84 L312.18 39.84 L313.17 39.83 L314.16 39.82 L315.15 39.82 L316.14 39.81 L317.14 39.81 L318.13 39.80 L319.13 39.80 L320.13 39.79 L321.14 39.79 L322.14 39.78 L323.15 39.78 L324.16 39.77 L325.17 39.77 L326.19 39.76 L327.20 39.76 L328.22 39.75 L329.24 39.75 L330.27 39.74 L331.29 39.74 L332.32 39.73 L333.35 39.73 L334.38 39.72 L335.41 39.72 L336.45 39.71 L337.48 39.71 L338.52 39.70 L339.56 39.70 L340.61 39.69 L341.65 39.69 L342.70 39.68 L343.75 39.68" stroke="#800080" stroke-width="2.4"/>
</g>
<g stroke="#5a5a5a" stroke-width="0.60" fill="none">
<rect x="44.00" y="6.89" width="305.50" height="188.82"/>
<path d="M50.10 195.72 v-3.83 M50.10 6.89 v3.83 M64.77 195.72 v-2.34 M64.77 6.89 v2.34 M79.43 195.72 v-2.34 M79.43 6.89 v2.34 M94.09 195.72 v-2.34 M94.09 6.89 v2.34 M108.76 195.72 v-3.83 M108.76 6.89 v3.83 M123.43 195.72 v-2.34 M123.43 6.89 v2.34 M138.09 195.72 v-2.34 M138.09 6.89 v2.34 M152.75 195.72 v-2.34 M152.75 6.89 v2.34 M167.42 195.72 v-3.83 M167.42 6.89 v3.83 M182.09 195.72 v-2.34 M182.09 6.89 v2.34 M196.75 195.72 v-2.34 M196.75 6.89 v2.34 M211.42 195.72 v-2.34 M211.42 6.89 v2.34 M226.08 195.72 v-3.83 M226.08 6.89 v3.83 M240.75 195.72 v-2.34 M240.75 6.89 v2.34 M255.41 195.72 v-2.34 M255.41 6.89 v2.34 M270.08 195.72 v-2.34 M270.08 6.89 v2.34 M284.74 195.72 v-3.83 M284.74 6.89 v3.83 M299.41 195.72 v-2.34 M299.41 6.89 v2.34 M314.07 195.72 v-2.34 M314.07 6.89 v2.34 M328.74 195.72 v-2.34 M328.74 6.89 v2.34 M343.40 195.72 v-3.83 M343.40 6.89 v3.83 M44.00 7.15 h3.40 M349.50 7.15 h-3.40 M44.00 15.00 h2.30 M349.50 15.00 h-2.30 M44.00 22.86 h2.30 M349.50 22.86 h-2.30 M44.00 30.71 h2.30 M349.50 30.71 h-2.30 M44.00 38.57 h3.40 M349.50 38.57 h-3.40 M44.00 46.42 h2.30 M349.50 46.42 h-2.30 M44.00 54.28 h2.30 M349.50 54.28 h-2.30 M44.00 62.13 h2.30 M349.50 62.13 h-2.30 M44.00 69.98 h3.40 M349.50 69.98 h-3.40 M44.00 77.84 h2.30 M349.50 77.84 h-2.30 M44.00 85.69 h2.30 M349.50 85.69 h-2.30 M44.00 93.55 h2.30 M349.50 93.55 h-2.30 M44.00 101.40 h3.40 M349.50 101.40 h-3.40 M44.00 109.26 h2.30 M349.50 109.26 h-2.30 M44.00 117.11 h2.30 M349.50 117.11 h-2.30 M44.00 124.96 h2.30 M349.50 124.96 h-2.30 M44.00 132.82 h3.40 M349.50 132.82 h-3.40 M44.00 140.67 h2.30 M349.50 140.67 h-2.30 M44.00 148.53 h2.30 M349.50 148.53 h-2.30 M44.00 156.38 h2.30 M349.50 156.38 h-2.30 M44.00 164.24 h3.40 M349.50 164.24 h-3.40 M44.00 172.09 h2.30 M349.50 172.09 h-2.30 M44.00 179.94 h2.30 M349.50 179.94 h-2.30 M44.00 187.80 h2.30 M349.50 187.80 h-2.30 M44.00 195.65 h3.40 M349.50 195.65 h-3.40"/>
</g>
<rect x="196.60" y="116.87" width="146.70" height="62.98" fill="#cccccc"/>
<text x="40.30" y="10.76" font-size="11.20" fill="#000" text-anchor="end" >−0.8</text>
<text x="40.30" y="42.17" font-size="11.20" fill="#000" text-anchor="end" >−1.0</text>
<text x="40.30" y="73.59" font-size="11.20" fill="#000" text-anchor="end" >−1.2</text>
<text x="40.30" y="105.01" font-size="11.20" fill="#000" text-anchor="end" >−1.4</text>
<text x="40.30" y="136.43" font-size="11.20" fill="#000" text-anchor="end" >−1.6</text>
<text x="40.30" y="167.84" font-size="11.20" fill="#000" text-anchor="end" >−1.8</text>
<text x="40.30" y="199.26" font-size="11.20" fill="#000" text-anchor="end" >−2.0</text>
<text x="50.00" y="209.30" font-size="11.20" fill="#000" text-anchor="middle" >0</text>
<text x="107.95" y="209.30" font-size="11.20" fill="#000" text-anchor="end" >200</text>
<text x="109.15" y="209.30" font-size="11.20" fill="#000" text-anchor="start" >000</text>
<text x="166.70" y="209.30" font-size="11.20" fill="#000" text-anchor="end" >400</text>
<text x="167.90" y="209.30" font-size="11.20" fill="#000" text-anchor="start" >000</text>
<text x="225.45" y="209.30" font-size="11.20" fill="#000" text-anchor="end" >600</text>
<text x="226.65" y="209.30" font-size="11.20" fill="#000" text-anchor="start" >000</text>
<text x="284.20" y="209.30" font-size="11.20" fill="#000" text-anchor="end" >800</text>
<text x="285.40" y="209.30" font-size="11.20" fill="#000" text-anchor="start" >000</text>
<text x="327" y="211.57" font-size="11.20">1<tspan dx="0.6">.</tspan><tspan dx="8.0">10</tspan><tspan font-size="7.2" dx="0.5" dy="-4.8">6</tspan></text>
<text transform="translate(335.25,212.12) scale(1,0.66)" font-size="14" fill="#000" stroke="#000" stroke-width="0.35">×</text>
<text x="194.30" y="231.14" font-size="11.50" fill="#000" text-anchor="start" font-style="italic">r</text>
<g transform="translate(10.4,102.05) rotate(-90)"><text x="0" y="0" font-size="10.2" text-anchor="middle">δI<tspan font-size="7.6" dx="0.2" dy="1.6">2</tspan></text></g>
<text x="236.10" y="131.75" font-size="11.20" fill="#ff0000"><tspan font-size="11.20" dx="0.00" dy="0.00">M=10</tspan><tspan font-size="7.20" dx="0.20" dy="-5.50">5</tspan><tspan font-size="11.20" dx="0.40" dy="5.50">,</tspan><tspan font-size="11.20" dx="0.00" dy="0.00"> q=</tspan><tspan font-size="11.20" dx="0.50" dy="0.00">10</tspan><tspan font-size="7.20" dx="0.20" dy="-5.50">5</tspan><tspan font-size="11.20" dx="0.60" dy="5.50">,</tspan><tspan font-size="11.20" dx="0.30" dy="0.00"> a=</tspan><tspan font-size="11.20" dx="0.50" dy="0.00">10</tspan><tspan font-size="7.20" dx="0.20" dy="-5.50">4</tspan></text>
<text x="236.10" y="174.13" font-size="11.20" fill="#800080"><tspan font-size="11.20" dx="0.00" dy="0.00">M=10</tspan><tspan font-size="7.20" dx="0.20" dy="-5.50">4</tspan><tspan font-size="11.20" dx="0.40" dy="5.50">,</tspan><tspan font-size="11.20" dx="0.00" dy="0.00"> q=</tspan><tspan font-size="11.20" dx="0.50" dy="0.00">10</tspan><tspan font-size="7.20" dx="0.20" dy="-5.50">3</tspan><tspan font-size="11.20" dx="0.60" dy="5.50">,</tspan><tspan font-size="11.20" dx="0.30" dy="0.00"> a=</tspan><tspan font-size="11.20" dx="0.50" dy="0.00">10</tspan><tspan font-size="7.20" dx="0.20" dy="-5.50">6</tspan></text>
<text transform="translate(253.05,153.82) scale(1,0.66)" font-size="14" fill="#0000ff" stroke="#0000ff" stroke-width="0.35">×</text>
<text x="225.50" y="153.27" font-size="11.20" fill="#0000ff"><tspan font-size="11.20" dx="0.00" dy="0.00">M=1</tspan><tspan font-size="11.20" dx="-0.60" dy="0.00">.</tspan><tspan font-size="11.20" dx="-0.50" dy="0.00">3</tspan><tspan font-size="11.20" dx="4.60" dy="0.00">10</tspan><tspan font-size="7.20" dx="0.90" dy="-5.50">5</tspan><tspan font-size="11.20" dx="1.80" dy="5.50">,</tspan><tspan font-size="11.20" dx="1.20" dy="0.00"> q=</tspan><tspan font-size="11.20" dx="-0.20" dy="0.00">10</tspan><tspan font-size="7.20" dx="0.40" dy="-5.50">3</tspan><tspan font-size="11.20" dx="1.20" dy="5.50">,</tspan><tspan font-size="11.20" dx="0.30" dy="0.00"> a=</tspan><tspan font-size="11.20" dx="0.90" dy="0.00">10</tspan><tspan font-size="7.20" dx="0.20" dy="-5.50">5</tspan></text>
<path d="M202.2 126.30 H223.5" stroke="#ff0000" stroke-width="0.8" fill="none"/>
<path d="M201.4 148.20 H224.3" stroke="#0000ff" stroke-width="2.4" stroke-dasharray="7.4 2.2" fill="none"/>
<path d="M201.4 169.06 H224.3" stroke="#800080" stroke-width="2.4" fill="none"/>
</g></svg></body></html>
